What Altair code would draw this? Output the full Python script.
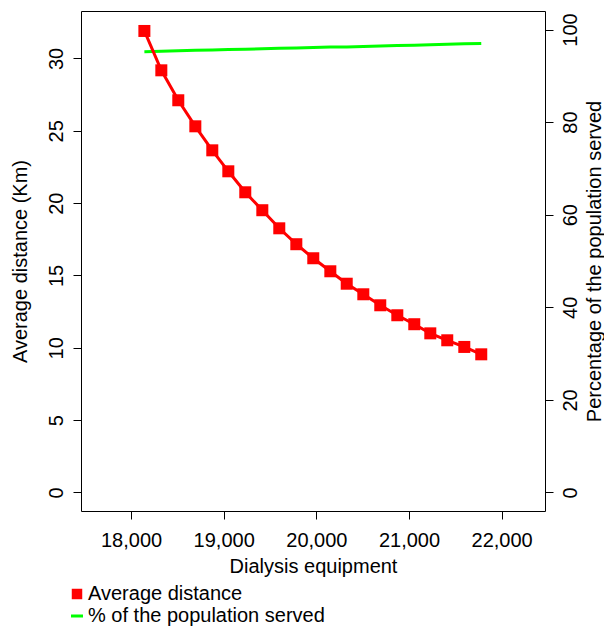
import altair as alt
import pandas as pd

# Data
equipment = [18144, 18327, 18510, 18694, 18877, 19050, 19233, 19417, 19600, 19784,
             19967, 20151, 20328, 20507, 20690, 20874, 21057, 21230, 21413, 21597, 21780]
avg_distance = [31.90, 29.18, 27.11, 25.31, 23.65, 22.20, 20.75, 19.51, 18.26, 17.16,
                16.19, 15.29, 14.43, 13.70, 12.94, 12.25, 11.63, 11.00, 10.52, 10.06, 9.55]
pct_served = [95.2, 95.3, 95.4, 95.5, 95.6, 95.7, 95.75, 95.85, 95.95, 96.0,
              96.1, 96.2, 96.25, 96.35, 96.45, 96.55, 96.6, 96.7, 96.8, 96.9, 97.0]
series_names = ["Average distance", "% of the population served"]
series_colors = ["#FF0000", "#00FF00"]
x_ticks = [18000, 19000, 20000, 21000, 22000]
left_ticks = [0, 5, 10, 15, 20, 25, 30]
right_ticks = [0, 20, 40, 60, 80, 100]

df_dist = pd.DataFrame({"equipment": equipment, "distance": avg_distance,
                        "series": series_names[0]})
df_pct = pd.DataFrame({"equipment": equipment, "pct": pct_served,
                       "series": series_names[1]})

FONT = "Liberation Sans"

x_enc = alt.X("equipment:Q",
              scale=alt.Scale(domain=[17460, 22468], nice=False, zero=False),
              axis=alt.Axis(values=x_ticks, format=",d", title="Dialysis equipment",
                            labelBaseline="alphabetic", labelPadding=27,
                            titleBaseline="alphabetic", titleX=232, titleY=61.6,
                            titleAnchor="start", titleAlign="center"))

left_axis = alt.Axis(values=left_ticks, orient="left", title="Average distance (Km)",
                     labelAngle=270, labelAlign="center", labelBaseline="alphabetic",
                     labelPadding=11, titleAngle=270, titleBaseline="alphabetic",
                     titleAlign="center", titleX=-55, titleY=250)
left_scale = alt.Scale(domain=[-1.28, 33.28], nice=False, zero=False)

right_axis = alt.Axis(values=right_ticks, orient="right",
                      title="Percentage of the population served",
                      labelAngle=270, labelAlign="center", labelBaseline="alphabetic",
                      labelPadding=23, titleAngle=270, titleBaseline="alphabetic",
                      titleAlign="center", titleX=55, titleY=250)
right_scale = alt.Scale(domain=[-4, 104], nice=False, zero=False)

legend_common = dict(title=None, orient="none", labelFont=FONT, labelFontSize=20,
                     labelColor="black", labelOffset=1, padding=0, labelLimit=500)

red_line = alt.Chart(df_dist).mark_line(color="#FF0000", strokeWidth=3).encode(
    x=x_enc,
    y=alt.Y("distance:Q", scale=left_scale, axis=left_axis),
)

red_points = alt.Chart(df_dist).mark_point(shape="square", filled=True, size=144,
                                           opacity=1).encode(
    x=x_enc,
    y=alt.Y("distance:Q", scale=left_scale, axis=left_axis),
    color=alt.Color("series:N",
                    scale=alt.Scale(domain=[series_names[0]], range=[series_colors[0]]),
                    legend=alt.Legend(legendX=-14, legendY=573, symbolSize=110,
                                      symbolType="square", **legend_common)),
)

green_line = alt.Chart(df_pct).mark_line(strokeWidth=3).encode(
    x=x_enc,
    y=alt.Y("pct:Q", scale=right_scale, axis=right_axis),
    stroke=alt.Stroke("series:N",
                      scale=alt.Scale(domain=[series_names[1]], range=[series_colors[1]]),
                      legend=alt.Legend(legendX=-14, legendY=595, symbolSize=144,
                                        symbolType="stroke", symbolStrokeWidth=3,
                                        **legend_common)),
)

chart = alt.layer(
    green_line,
    alt.layer(red_line, red_points),
).resolve_scale(y="independent").properties(
    width=464, height=500,
    autosize=alt.AutoSizeParams(type="none"),
    padding={"left": 73, "top": 3, "right": 59, "bottom": 115},
).configure_view(
    stroke="black", strokeWidth=1
).configure_axis(
    labelFont=FONT, labelFontSize=20, labelColor="black",
    titleFont=FONT, titleFontSize=20, titleColor="black", titleFontWeight="normal",
    tickSize=8, tickColor="black", tickWidth=1, domain=False, grid=False,
    labelFlush=False, labelOverlap=False,
)

chart.save("out.html", embed_options={"renderer": "svg", "actions": False})
